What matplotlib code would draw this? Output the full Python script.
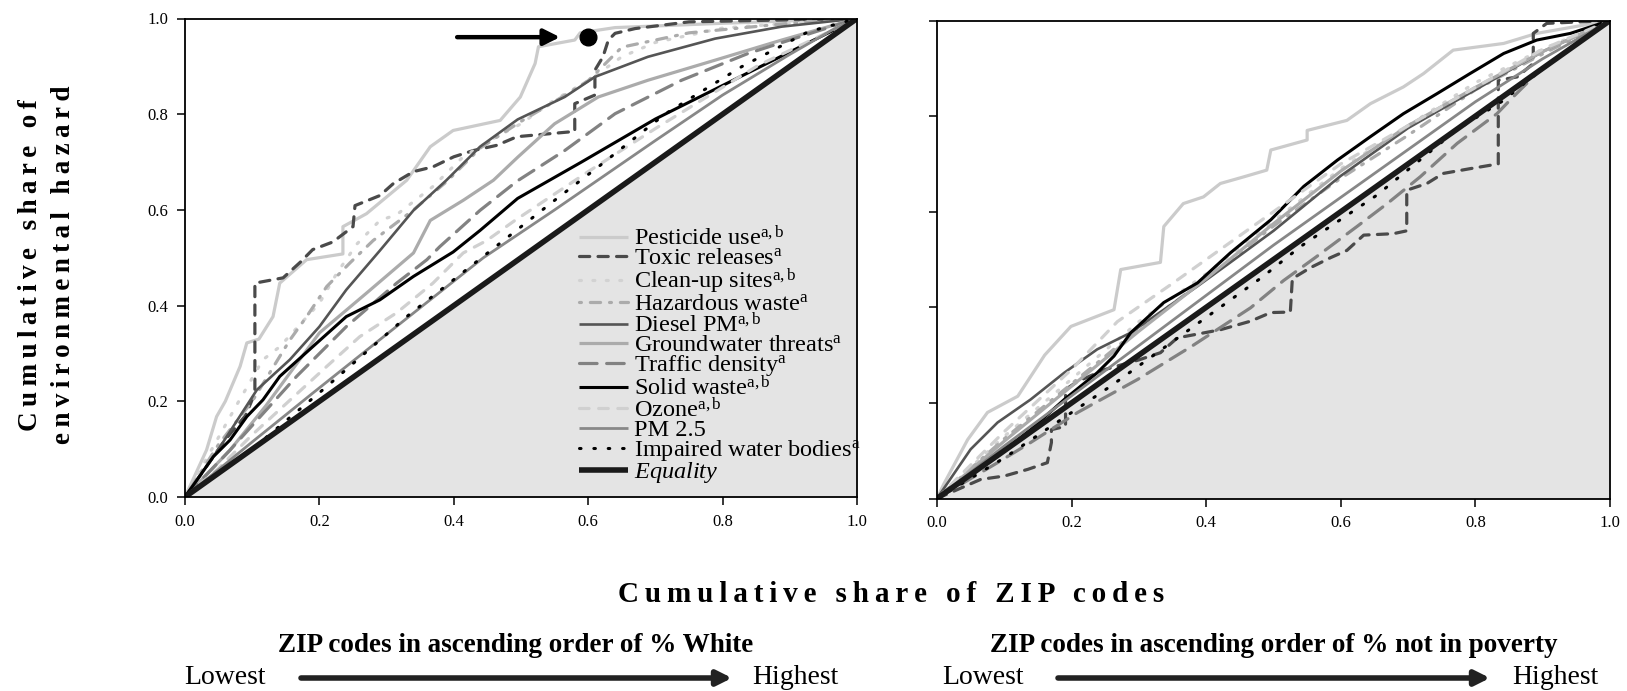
import matplotlib
matplotlib.use("Agg")
import matplotlib.pyplot as plt
import numpy as np

plt.rcParams['font.family'] = ['Liberation Serif', 'DejaVu Serif']
plt.rcParams['mathtext.fontset'] = 'custom'
plt.rcParams['mathtext.rm'] = 'Liberation Serif'
plt.rcParams['mathtext.it'] = 'Liberation Serif:italic'

# ---------------- data: ordered by % White (left panel) ----------------
W_PESTICIDE = [(0, 0), (0.032, 0.098), (0.047, 0.168), (0.06, 0.2), (0.082, 0.273), (0.092, 0.322),
               (0.11, 0.33), (0.131, 0.377), (0.141, 0.447), (0.181, 0.496), (0.235, 0.508),
               (0.235, 0.565), (0.27, 0.592), (0.33, 0.662), (0.365, 0.732), (0.399, 0.766),
               (0.469, 0.787), (0.499, 0.836), (0.521, 0.906), (0.526, 0.941), (0.58, 0.955),
               (0.588, 0.97), (0.64, 0.981), (0.8, 0.99), (1, 1)]
W_TOXIC = [(0, 0), (0.03, 0.06), (0.06, 0.12), (0.09, 0.17), (0.104, 0.217), (0.104, 0.447),
           (0.146, 0.458), (0.171, 0.49), (0.19, 0.517), (0.22, 0.533), (0.25, 0.565), (0.253, 0.609),
           (0.29, 0.63), (0.31, 0.655), (0.34, 0.68), (0.369, 0.69), (0.40, 0.711), (0.429, 0.724),
           (0.464, 0.735), (0.494, 0.753), (0.58, 0.764), (0.58, 0.822), (0.61, 0.84), (0.61, 0.892),
           (0.622, 0.92), (0.63, 0.955), (0.64, 0.969), (0.67, 0.979), (0.75, 0.993), (1, 1)]
W_CLEANUP = [(0, 0), (0.04, 0.1), (0.08, 0.2), (0.116, 0.287), (0.141, 0.314), (0.2, 0.405),
             (0.226, 0.468), (0.256, 0.529), (0.29, 0.578), (0.315, 0.59), (0.369, 0.649),
             (0.414, 0.711), (0.46, 0.75), (0.5, 0.78), (0.55, 0.83), (0.6, 0.87), (0.65, 0.92),
             (0.7, 0.95), (0.8, 0.98), (1, 1)]
W_HAZARD = [(0, 0), (0.05, 0.11), (0.1, 0.2), (0.156, 0.328), (0.181, 0.377), (0.211, 0.44),
            (0.246, 0.49), (0.28, 0.536), (0.34, 0.6), (0.39, 0.66), (0.44, 0.73), (0.5, 0.785),
            (0.56, 0.835), (0.6, 0.87), (0.65, 0.94), (0.75, 0.97), (0.9, 0.99), (1, 1)]
W_DIESEL = [(0, 0), (0.02, 0.04), (0.05, 0.1), (0.107, 0.224), (0.156, 0.287), (0.2, 0.356),
            (0.24, 0.433), (0.29, 0.515), (0.34, 0.599), (0.389, 0.662), (0.439, 0.732),
            (0.495, 0.789), (0.565, 0.836), (0.61, 0.878), (0.689, 0.92), (0.789, 0.958),
            (0.888, 0.983), (1, 1)]
W_GROUNDWATER = [(0, 0), (0.067, 0.098), (0.12, 0.19), (0.2, 0.343), (0.27, 0.426), (0.34, 0.51),
                 (0.365, 0.578), (0.414, 0.62), (0.459, 0.662), (0.495, 0.71), (0.55, 0.78),
                 (0.615, 0.836), (0.689, 0.871), (0.789, 0.913), (0.888, 0.955), (1, 1)]
W_TRAFFIC = [(0, 0), (0.067, 0.098), (0.166, 0.252), (0.24, 0.356), (0.315, 0.447), (0.36, 0.496),
             (0.379, 0.523), (0.439, 0.599), (0.494, 0.66), (0.565, 0.724), (0.64, 0.801),
             (0.739, 0.871), (0.838, 0.927), (0.9375, 0.972), (1, 1)]
W_SOLID = [(0, 0), (0.042, 0.084), (0.067, 0.119), (0.092, 0.168), (0.116, 0.203), (0.141, 0.252),
           (0.19, 0.314), (0.24, 0.377), (0.29, 0.412), (0.34, 0.461), (0.399, 0.512),
           (0.439, 0.557), (0.495, 0.624), (0.59, 0.70), (0.7, 0.79), (0.8, 0.86), (0.9, 0.93), (1, 1)]
W_OZONE = [(0, 0), (0.05, 0.06), (0.1, 0.13), (0.211, 0.273), (0.26, 0.335), (0.315, 0.385),
           (0.369, 0.447), (0.414, 0.51), (0.449, 0.536), (0.491, 0.578), (0.6, 0.68),
           (0.7, 0.77), (0.853, 0.902), (1, 1)]
W_PM25 = [(0, 0), (0.1, 0.115), (0.19, 0.217), (0.3, 0.34), (0.444, 0.5), (0.55, 0.6),
          (0.7, 0.745), (0.8, 0.84), (0.9, 0.925), (0.963, 0.976), (1, 1)]
W_IMPAIRED = [(0, 0), (0.1, 0.1), (0.211, 0.231), (0.33, 0.377), (0.444, 0.503), (0.55, 0.62),
              (0.615, 0.69), (0.714, 0.80), (0.828, 0.899), (0.927, 0.972), (1, 1)]

# ---------------- data: ordered by % not in poverty (right panel) ----------------
P_PESTICIDE = [(0, 0), (0.01, 0.03), (0.0455, 0.123), (0.075, 0.18), (0.12, 0.214), (0.16, 0.3),
               (0.199, 0.36), (0.263, 0.395), (0.273, 0.479), (0.332, 0.494), (0.337, 0.569),
               (0.366, 0.617), (0.396, 0.631), (0.421, 0.659), (0.456, 0.673), (0.49, 0.687),
               (0.496, 0.729), (0.55, 0.75), (0.55, 0.77), (0.609, 0.791), (0.644, 0.826),
               (0.693, 0.861), (0.723, 0.889), (0.767, 0.938), (0.842, 0.952), (0.891, 0.973), (1, 1)]
P_TOXIC = [(0, 0), (0.065, 0.04), (0.1, 0.047), (0.135, 0.061), (0.164, 0.075), (0.17, 0.117),
           (0.17, 0.144), (0.191, 0.151), (0.191, 0.228), (0.209, 0.245), (0.25, 0.27), (0.3, 0.29),
           (0.332, 0.305), (0.357, 0.336), (0.421, 0.353), (0.466, 0.371), (0.496, 0.389),
           (0.525, 0.39), (0.528, 0.46), (0.555, 0.483), (0.585, 0.504), (0.609, 0.519),
           (0.634, 0.551), (0.678, 0.554), (0.698, 0.56), (0.698, 0.645), (0.728, 0.659),
           (0.752, 0.68), (0.792, 0.69), (0.834, 0.70), (0.834, 0.875), (0.862, 0.882),
           (0.886, 0.91), (0.886, 0.973), (0.906, 0.994), (1, 1)]
P_CLEANUP = [(0, 0), (0.1, 0.13), (0.2, 0.25), (0.3, 0.37), (0.4, 0.47), (0.5, 0.58), (0.6, 0.69),
             (0.7, 0.78), (0.8, 0.87), (0.9, 0.94), (1, 1)]
P_HAZARD = [(0, 0), (0.1, 0.125), (0.2, 0.24), (0.3, 0.355), (0.4, 0.46), (0.5, 0.57), (0.6, 0.67),
            (0.7, 0.76), (0.8, 0.855), (0.9, 0.93), (1, 1)]
P_DIESEL = [(0, 0), (0.05, 0.103), (0.09, 0.159), (0.139, 0.207), (0.189, 0.263), (0.238, 0.312),
            (0.288, 0.347), (0.337, 0.395), (0.387, 0.444), (0.436, 0.494), (0.5, 0.56),
            (0.6, 0.675), (0.7, 0.775), (0.8, 0.855), (0.9, 0.935), (1, 1)]
P_GROUNDWATER = [(0, 0), (0.1, 0.12), (0.2, 0.235), (0.3, 0.35), (0.4, 0.46), (0.5, 0.575),
                 (0.6, 0.685), (0.7, 0.78), (0.8, 0.86), (0.9, 0.935), (1, 1)]
P_TRAFFIC = [(0, 0), (0.09, 0.075), (0.139, 0.117), (0.209, 0.18), (0.298, 0.249), (0.379, 0.319),
             (0.466, 0.399), (0.515, 0.456), (0.562, 0.504), (0.624, 0.569), (0.669, 0.617),
             (0.718, 0.673), (0.773, 0.743), (0.832, 0.805), (0.856, 0.84), (0.891, 0.889),
             (0.95, 0.95), (1, 1)]
P_SOLID = [(0, 0), (0.09, 0.089), (0.139, 0.144), (0.189, 0.207), (0.238, 0.263), (0.263, 0.298),
           (0.288, 0.347), (0.337, 0.41), (0.387, 0.451), (0.436, 0.514), (0.496, 0.583),
           (0.545, 0.653), (0.595, 0.708), (0.644, 0.757), (0.693, 0.805), (0.743, 0.847),
           (0.792, 0.889), (0.842, 0.931), (0.891, 0.959), (0.941, 0.973), (1, 1)]
P_OZONE = [(0, 0), (0.1, 0.14), (0.2, 0.27), (0.268, 0.37), (0.35, 0.45), (0.5, 0.6), (0.6, 0.7),
           (0.7, 0.78), (0.8, 0.86), (0.9, 0.94), (1, 1)]
P_PM25 = [(0, 0), (0.1, 0.11), (0.2, 0.215), (0.3, 0.32), (0.4, 0.425), (0.5, 0.53), (0.6, 0.63),
          (0.7, 0.73), (0.8, 0.83), (0.9, 0.92), (1, 1)]
P_IMPAIRED = [(0, 0), (0.1, 0.085), (0.258, 0.235), (0.485, 0.465), (0.54, 0.527), (0.654, 0.635),
              (0.773, 0.772), (0.842, 0.833), (0.9, 0.9), (1, 1)]

EQUALITY = [(0, 0), (1, 1)]

LABELS = [r'Pesticide use$^{\mathrm{a,b}}$', r'Toxic releases$^{\mathrm{a}}$',
          r'Clean-up sites$^{\mathrm{a,b}}$', r'Hazardous waste$^{\mathrm{a}}$',
          r'Diesel PM$^{\mathrm{a,b}}$', r'Groundwater threats$^{\mathrm{a}}$',
          r'Traffic density$^{\mathrm{a}}$', r'Solid waste$^{\mathrm{a,b}}$',
          r'Ozone$^{\mathrm{a,b}}$', 'PM 2.5', r'Impaired water bodies$^{\mathrm{a}}$',
          r'$\mathit{Equality}$']
TICKS = [0.0, 0.2, 0.4, 0.6, 0.8, 1.0]
TICK_LABELS = ['0.0', '0.2', '0.4', '0.6', '0.8', '1.0']
HIGHLIGHT_POINT = (0.60, 0.961)

# styles: color, linewidth, dash pattern (None = solid)
STYLES = [
    ('#cbcbcb', 2.3, None),
    ('#4a4a4a', 2.3, (3.2, 2.6)),
    ('#d2d2d2', 2.3, (0.6, 3.6)),
    ('#ababab', 2.3, (0.6, 2.8, 3.2, 2.8)),
    ('#555555', 1.9, None),
    ('#ababab', 2.3, None),
    ('#828282', 2.3, (5.5, 3.0)),
    ('#000000', 2.2, None),
    ('#d0d0d0', 2.3, (3.0, 3.0)),
    ('#888888', 2.0, None),
    ('#000000', 2.2, (0.5, 4.2)),
    ('#1a1a1a', 4.0, None),
]

W_SERIES = [W_PESTICIDE, W_TOXIC, W_CLEANUP, W_HAZARD, W_DIESEL, W_GROUNDWATER, W_TRAFFIC,
            W_SOLID, W_OZONE, W_PM25, W_IMPAIRED, EQUALITY]
P_SERIES = [P_PESTICIDE, P_TOXIC, P_CLEANUP, P_HAZARD, P_DIESEL, P_GROUNDWATER, P_TRAFFIC,
            P_SOLID, P_OZONE, P_PM25, P_IMPAIRED, EQUALITY]

FW, FH = 1627, 691
fig = plt.figure(figsize=(FW / 100, FH / 100), dpi=100)


def px_axes(x0, y0, x1, y1):
    return fig.add_axes([x0 / FW, 1 - y1 / FH, (x1 - x0) / FW, (y1 - y0) / FH])


axL = px_axes(185, 18.5, 857, 497)
axR = px_axes(937, 20.5, 1610, 498.5)


def draw_panel(ax, series, ylabels):
    ax.fill_between([0, 1], [0, 1], [0, 0], color='#e4e4e4', lw=0, zorder=0)
    handles = []
    for pts, (c, lw, dash), lab in zip(series, STYLES, LABELS):
        arr = np.array(pts, dtype=float)
        ln, = ax.plot(arr[:, 0], arr[:, 1], color=c, lw=lw, label=lab,
                      solid_capstyle='butt', dash_capstyle='round', zorder=2)
        if dash is not None:
            ln.set_dashes(dash)
        handles.append(ln)
    ax.set_xlim(0, 1)
    ax.set_ylim(0, 1)
    ax.set_xticks(TICKS)
    ax.set_xticklabels(TICK_LABELS, fontsize=12)
    ax.set_yticks(TICKS)
    if ylabels:
        ax.set_yticklabels(TICK_LABELS, fontsize=12)
    else:
        ax.set_yticklabels([])
    ax.tick_params(direction='out', length=6, width=1.1, pad=6)
    for s in ax.spines.values():
        s.set_linewidth(1.3)
    return handles


hL = draw_panel(axL, W_SERIES, True)
draw_panel(axR, P_SERIES, False)

leg = axL.legend(handles=hL, loc='upper left', bbox_to_anchor=(0.587, 0.567), frameon=False,
                 fontsize=17.5, handlelength=2.0, handletextpad=0.26, labelspacing=-0.115,
                 borderpad=0, borderaxespad=0)

# highlighted point with arrow in the left panel
axL.plot([HIGHLIGHT_POINT[0]], [HIGHLIGHT_POINT[1]], 'o', color='black', ms=12, zorder=5)
axL.annotate('', xy=(0.558, 0.961), xytext=(0.405, 0.961),
             arrowprops=dict(arrowstyle='-|>', lw=3.2, color='black', mutation_scale=24,
                             shrinkA=0, shrinkB=0))


def spaced(s):
    out = []
    for w in s.split(' '):
        out.append('\u2009'.join(w))
    return ' \u2009\u2009'.join(out)


def ftext(x, y, s, **kw):
    fig.text(x / FW, 1 - y / FH, s, **kw)


ftext(31, 265, spaced('Cumulative share of'), rotation=90, ha='center', va='center',
      fontsize=19.5, fontweight='bold')
ftext(64, 265, spaced('environmental hazard'), rotation=90, ha='center', va='center',
      fontsize=19.5, fontweight='bold')
ftext(891, 594, spaced('Cumulative share of ZIP codes'), ha='center', va='center',
      fontsize=21, fontweight='bold')

ftext(516, 645, 'ZIP codes in ascending order of % White', ha='center', va='center',
      fontsize=19.5, fontweight='bold')
ftext(1274, 645, 'ZIP codes in ascending order of % not in poverty', ha='center', va='center',
      fontsize=19.5, fontweight='bold')
ftext(225, 678, 'Lowest', ha='center', va='center', fontsize=20)
ftext(795, 678, 'Highest', ha='center', va='center', fontsize=20)
ftext(983, 678, 'Lowest', ha='center', va='center', fontsize=20)
ftext(1555, 678, 'Highest', ha='center', va='center', fontsize=20)


def farrow(x0, x1, y):
    fig.add_artist(matplotlib.patches.FancyArrowPatch(
        (x0 / FW, 1 - y / FH), (x1 / FW, 1 - y / FH), transform=fig.transFigure,
        arrowstyle='-|>', lw=4, color='#222222', mutation_scale=22, shrinkA=0, shrinkB=0))


farrow(301, 732, 678)
farrow(1058, 1490, 678)

fig.savefig('out.png', dpi=100)
